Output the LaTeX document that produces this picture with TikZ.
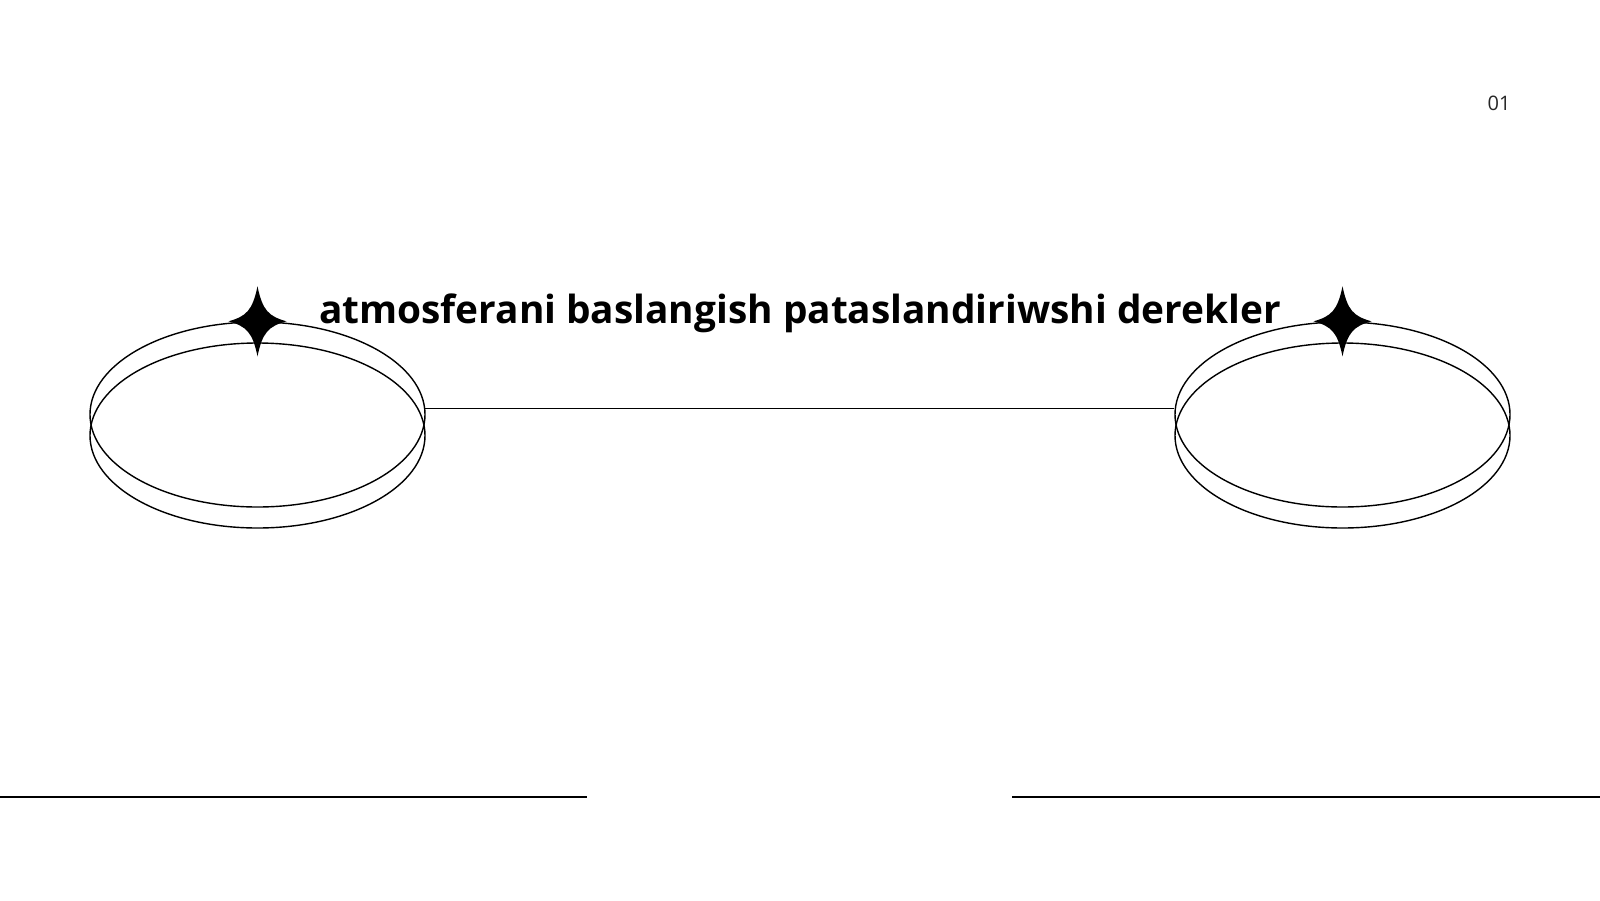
\documentclass[tikz,border=0pt]{standalone}
\usepackage{fontspec}
\setmainfont{Open Sans}
\usetikzlibrary{positioning, calc}
\usetikzlibrary{shapes.geometric}

\tikzset{
  ring/.style={draw, ellipse, line width=1.4pt, minimum width=335pt, minimum height=185pt, inner sep=0pt},
  sparkle/.pic={
    \fill (0,-35) .. controls (5,-11) and (11,-5) .. (29,0)
          .. controls (11,5) and (5,11) .. (0,35)
          .. controls (-5,11) and (-11,5) .. (-29,0)
          .. controls (-11,-5) and (-5,-11) .. cycle;
  },
  rule/.style={line width=1.8pt}
}

\begin{document}
\begin{tikzpicture}[x=1pt,y=-1pt]
            \useasboundingbox (0,0) rectangle (1600,900);
            % left rings
            \node[ring] (lefttop) at (257.5,414.5) {};
            \node[ring] (leftlow) at (257.5,435.5) {};
            % right rings
            \node[ring] (righttop) at (1342.5,414.5) {};
            \node[ring] (rightlow) at (1342.5,435.5) {};
            \pic at (lefttop.north) {sparkle};
            \pic at (righttop.north) {sparkle};
            \draw[line width=1.4pt] (lefttop.2.5) -- (lefttop.2.5 -| righttop.west);
            \node[font=\fontsize{38.8}{44}\selectfont\bfseries, anchor=base] (title) at (800,323) {atmosferani baslangish pataslandiriwshi derekler};
            \node[font=\fontsize{20}{24}\selectfont, text=black!85, anchor=base] (pagenum) at (1499,110) {01};
            % bottom rules
            \coordinate (bl0) at (0,797);
            \coordinate (bl1) at (587,797);
            \coordinate (br0) at (1012,797);
            \coordinate (br1) at (1600,797);
            \draw[rule] (bl0) -- (bl1);
            \draw[rule] (br0) -- (br1);
        \end{tikzpicture}
\end{document}
